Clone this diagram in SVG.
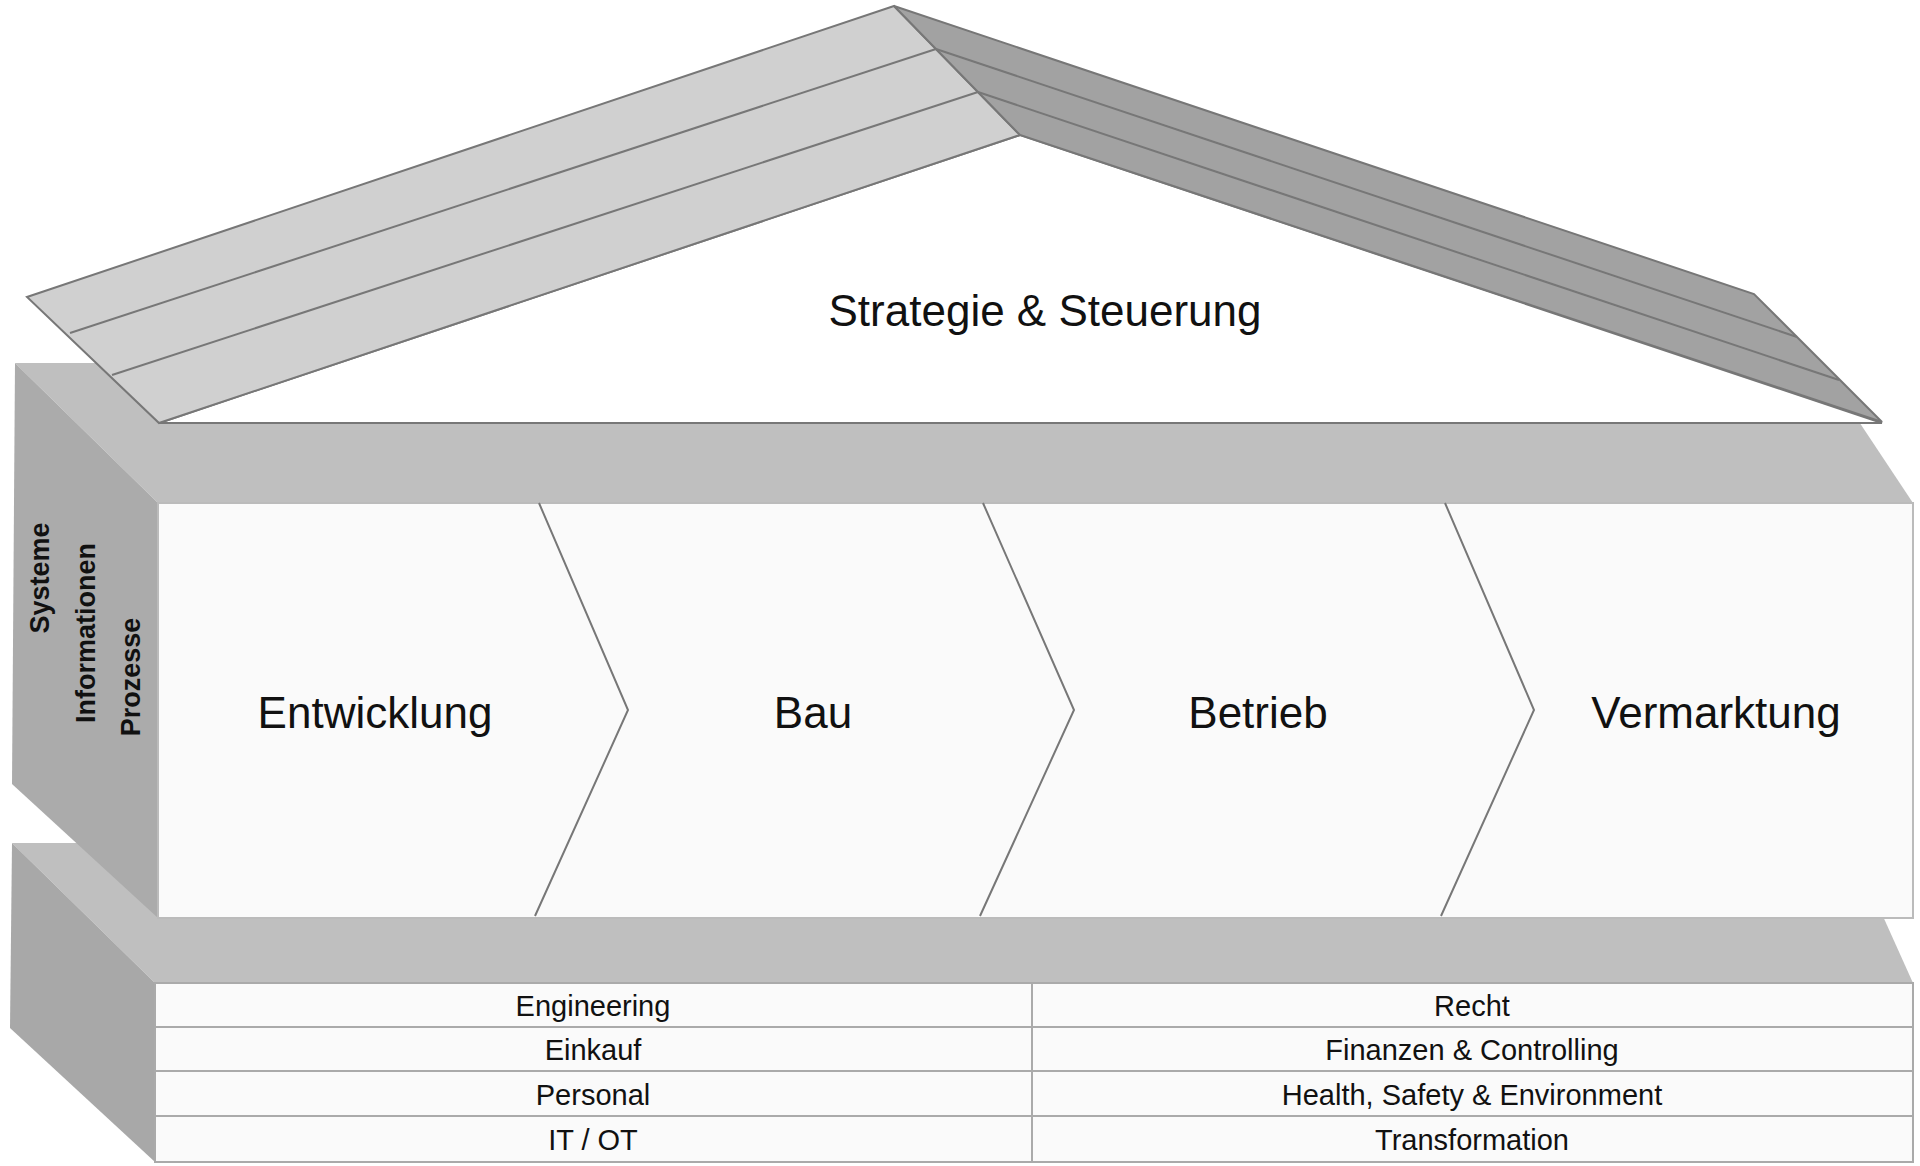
<svg xmlns="http://www.w3.org/2000/svg" width="1920" height="1166" viewBox="0 0 1920 1166">
<style>
.t{font-family:"Liberation Sans",Arial,sans-serif;fill:#111;text-anchor:middle;dominant-baseline:central}
.big{font-size:44px}
.sm{font-size:29px}
.side{font-size:27px;font-weight:bold}
.face{fill:#fafafa;stroke:#aaa;stroke-width:2}
.ln{stroke:#777;stroke-width:2;fill:none}
</style>
<rect width="1920" height="1166" fill="#fff"/>
<g id="lower-block">
<polygon points="12,843 1850,843 1913,983 155,983" fill="#bfbfbf"/>
<polygon points="12,843 155,983 155,1162 10,1028" fill="#a8a8a8"/>
<rect class="face" x="155" y="983" width="1758" height="44"/>
<rect class="face" x="155" y="1027" width="1758" height="44"/>
<rect class="face" x="155" y="1071" width="1758" height="45"/>
<rect class="face" x="155" y="1116" width="1758" height="46"/>
<line x1="1032" y1="983" x2="1032" y2="1162" stroke="#aaa" stroke-width="2"/>
</g>
<g id="support-rows">
<text class="t sm" x="593" y="1006">Engineering</text>
<text class="t sm" x="593" y="1050">Einkauf</text>
<text class="t sm" x="593" y="1095">Personal</text>
<text class="t sm" x="593" y="1140">IT / OT</text>
<text class="t sm" x="1472" y="1006">Recht</text>
<text class="t sm" x="1472" y="1050">Finanzen &amp; Controlling</text>
<text class="t sm" x="1472" y="1095">Health, Safety &amp; Environment</text>
<text class="t sm" x="1472" y="1140">Transformation</text>
</g>
<g id="upper-block">
<polygon points="15,363 1820,363 1913,503 158,503" fill="#bfbfbf"/>
<polygon points="15,363 158,503 158,918 12,784" fill="#ababab"/>
<rect x="158" y="503" width="1755" height="415" fill="#fafafa" stroke="#bbb" stroke-width="2"/>
<polyline class="ln" points="539,503 628,710 535,916" stroke="#999"/>
<polyline class="ln" points="983,503 1074,710 980,916" stroke="#999"/>
<polyline class="ln" points="1445,503 1534,710 1441,916" stroke="#999"/>
<text class="t side" transform="translate(40,578) rotate(-90)">Systeme</text>
<text class="t side" transform="translate(86,633) rotate(-90)">Informationen</text>
<text class="t side" transform="translate(131,677) rotate(-90)">Prozesse</text>
</g>
<g id="phases">
<text class="t big" x="375" y="712">Entwicklung</text>
<text class="t big" x="813" y="712">Bau</text>
<text class="t big" x="1258" y="712">Betrieb</text>
<text class="t big" x="1716" y="712">Vermarktung</text>
</g>
<g id="roof">
<polygon points="1020,135 159,423 1882,423" fill="#fff" stroke="#777" stroke-width="2"/>
<polygon points="894,6 27,297 159,423 1020,135" fill="#d0d0d0" stroke="#777" stroke-width="2"/>
<polygon points="894,6 1754,294 1882,422 1020,135" fill="#a2a2a2" stroke="#777" stroke-width="2"/>
<line class="ln" x1="70" y1="333" x2="936" y2="49"/>
<line class="ln" x1="112" y1="375" x2="978" y2="92"/>
<line class="ln" x1="936" y1="49" x2="1797" y2="337"/>
<line class="ln" x1="978" y1="92" x2="1839" y2="380"/>
<text class="t big" x="1045" y="310">Strategie &amp; Steuerung</text>
</g>
<g id="connectors"/>
</svg>
